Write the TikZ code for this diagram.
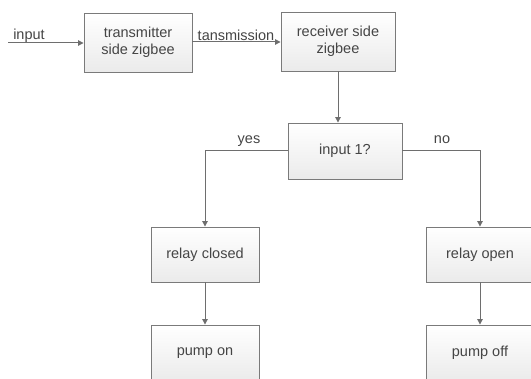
\documentclass[tikz,border=0pt]{standalone}
\usepackage{fontspec}
\setmainfont{Liberation Sans}
\usetikzlibrary{arrows.meta,shadows}
\definecolor{txt}{HTML}{454545}
\definecolor{edge}{HTML}{7A7A7A}
\definecolor{ln}{HTML}{6E6E6E}
\tikzset{
  box/.style={draw=edge, line width=0.9pt, top color=white, bottom color=black!8,
    drop shadow={shadow xshift=1.2pt, shadow yshift=-1.2pt, opacity=0.2, fill=black},
    align=center, text=txt, inner sep=0pt,
    font=\fontsize{14.5}{17}\selectfont},
  conn/.style={draw=ln, line width=1pt, -{Triangle[length=5.5pt,width=5.5pt]}},
  lab/.style={text=txt, inner sep=0pt, font=\fontsize{14.5}{17}\selectfont}
}
\begin{document}
\begin{tikzpicture}[x=1pt,y=-1pt]
\useasboundingbox (0,0) rectangle (531,379);
\node[box, minimum width=108pt, minimum height=59pt] (tx) at (138,42.5) {transmitter\\side zigbee};
\node[box, minimum width=114pt, minimum height=59pt] (rx) at (338,41.5) {receiver side\\zigbee};
\node[box, minimum width=114pt, minimum height=56pt] (dec) at (345,151) {input 1?};
\node[box, minimum width=108pt, minimum height=55pt] (rc) at (205,254.5) {relay closed};
\node[box, minimum width=108pt, minimum height=55pt] (ro) at (480,254.5) {relay open};
\node[box, minimum width=108pt, minimum height=56pt] (pon) at (205,353) {pump on};
\node[box, minimum width=108pt, minimum height=56pt] (poff) at (480,353) {pump off};
\coordinate (in) at (8,43);
\draw[conn] (in) -- (in -| tx.west);
\draw[conn] (tx.east |- 0,42) -- (rx.west |- 0,42);
\draw[conn] (rx.south) -- (rx.south |- dec.north);
\draw[conn] (dec.west) -| (rc.north);
\draw[conn] (dec.east) -| (ro.north);
\draw[conn] (rc.south) -- (pon.north);
\draw[conn] (ro.south) -- (poff.north);
\node[lab] (linput) at (29,36) {input};
\node[lab] (ltx) at (236,35) {tansmission};
\node[lab] (lyes) at (249,141) {yes};
\node[lab] (lno) at (442,140) {no};
\end{tikzpicture}
\end{document}
